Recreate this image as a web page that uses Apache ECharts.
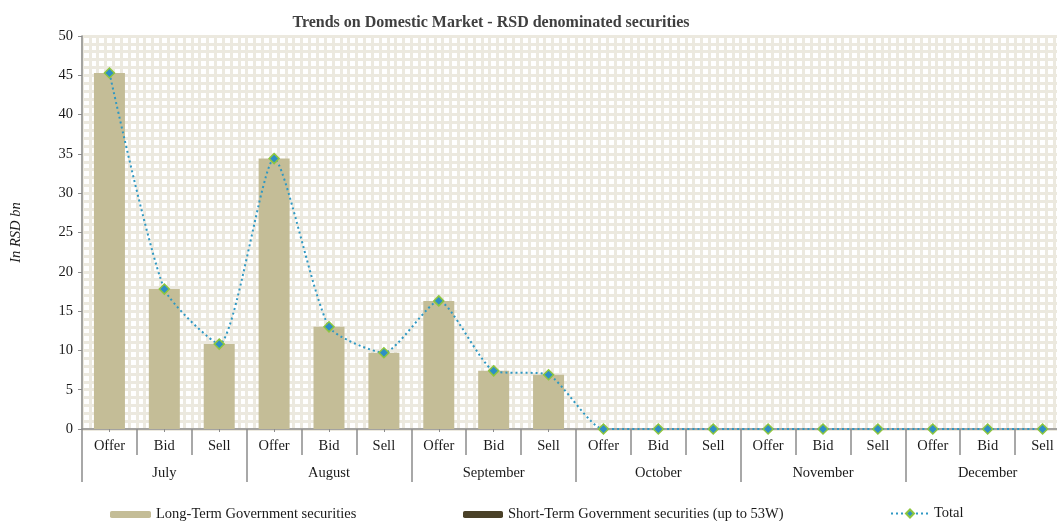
<!DOCTYPE html>
<html>
<head>
<meta charset="utf-8">
<title>Trends on Domestic Market - RSD denominated securities</title>
<script src="https://cdn.jsdelivr.net/npm/echarts@6/dist/echarts.min.js"></script>
<style>
    html, body { margin: 0; padding: 0; background: #fff; }
    #chart { width: 1057px; height: 521px; }
</style>
</head>
<body>
<div id="chart"></div>
<script>
    // categories
    var months = ['July', 'August', 'September', 'October', 'November', 'December'];
    var kinds = ['Offer', 'Bid', 'Sell'];
    // values, in RSD bn
    var longTerm = [45.3, 17.8, 10.8, 34.4, 13.0, 9.7, 16.3, 7.4, 6.9, 0, 0, 0, 0, 0, 0, 0, 0, 0];
    var shortTerm = [0, 0, 0, 0, 0, 0, 0, 0, 0, 0, 0, 0, 0, 0, 0, 0, 0, 0];
    var total = [45.3, 17.8, 10.8, 34.4, 13.0, 9.7, 16.3, 7.4, 6.9, 0, 0, 0, 0, 0, 0, 0, 0, 0];
    var yTicks = [0, 5, 10, 15, 20, 25, 30, 35, 40, 45, 50];

    var categories = [];
    months.forEach(function () {
        kinds.forEach(function (k) { categories.push(k); });
    });

    var font = 'Liberation Serif';
    var gridColor = '#ece9df';
    var axisColor = '#8c8c8c';

    var chart = echarts.init(document.getElementById('chart'));
    var option = {
        animation: false,
        backgroundColor: '#fff',
        textStyle: { fontFamily: font },
        title: {
            text: 'Trends on Domestic Market - RSD denominated securities',
            left: 486, top: 10, textAlign: 'center',
            textStyle: { fontFamily: font, fontSize: 16, fontWeight: 'bold', color: '#404040' }
        },
        // one legend per item, placed like the original
        legend: [
            {
                data: ['Long-Term Government securities'], left: 110, top: 507, padding: 0,
                itemWidth: 41, itemHeight: 7,
                textStyle: { fontFamily: font, fontSize: 14.5, color: '#1a1a1a' }
            },
            {
                data: ['Short-Term Government securities (up to 53W)'], left: 463, top: 507, padding: 0,
                itemWidth: 40, itemHeight: 7,
                textStyle: { fontFamily: font, fontSize: 14.5, color: '#1a1a1a' }
            },
            {
                data: ['Total'], left: 890, top: 506, padding: 0,
                itemWidth: 38, itemHeight: 10,
                textStyle: { fontFamily: font, fontSize: 14.5, color: '#1a1a1a' }
            }
        ],
        // the original plot runs past the right edge of the picture
        grid: { left: 82, width: 988, top: 36, height: 393, containLabel: false, outerBoundsMode: 'none' },
        xAxis: [
            {   // Offer / Bid / Sell labels, small centre ticks
                type: 'category', data: categories, position: 'bottom',
                axisLine: { lineStyle: { color: axisColor, width: 1.5 } },
                axisTick: { show: true, alignWithLabel: true, length: 3, lineStyle: { color: axisColor } },
                axisLabel: { margin: 10, fontFamily: font, fontSize: 14.5, color: '#1a1a1a', interval: 0 },
                splitLine: { show: false }
            },
            {   // separators between categories
                type: 'category', data: categories, position: 'bottom',
                axisLine: { show: false },
                axisTick: { show: true, interval: 0, length: 26, lineStyle: { color: axisColor, width: 1.5 } },
                axisLabel: { show: false }
            },
            {   // month labels and separators
                type: 'category', data: months, position: 'bottom',
                axisLine: { show: false },
                axisTick: { show: true, interval: 0, length: 53, lineStyle: { color: axisColor, width: 1.5 } },
                axisLabel: { margin: 37, fontFamily: font, fontSize: 14.5, color: '#1a1a1a', interval: 0 }
            },
            {   // hidden axis that only draws the vertical pattern lines
                type: 'value', min: 0, max: 126, interval: 1, position: 'top',
                axisLine: { show: false }, axisTick: { show: false }, axisLabel: { show: false },
                splitLine: { show: true, lineStyle: { color: gridColor, width: 3 } }
            }
        ],
        yAxis: {
            type: 'value', min: yTicks[0], max: yTicks[yTicks.length - 1], interval: 5,
            name: 'In RSD bn', nameLocation: 'middle', nameGap: 58, nameRotate: 90,
            nameTextStyle: { fontFamily: font, fontSize: 14.5, fontStyle: 'italic', color: '#1a1a1a' },
            axisLine: { show: true, lineStyle: { color: axisColor, width: 1.5 } },
            axisTick: { show: true, length: 4, lineStyle: { color: axisColor } },
            axisLabel: { margin: 9, fontFamily: font, fontSize: 14.5, color: '#1a1a1a' },
            splitLine: { show: true, lineStyle: { color: gridColor, width: 3 } },
            minorTick: { show: false, splitNumber: 5 },
            minorSplitLine: { show: true, lineStyle: { color: gridColor, width: 3 } }
        },
        series: [
            {
                name: 'Long-Term Government securities', type: 'bar', stack: 'gov',
                data: longTerm, barWidth: 31,
                itemStyle: { color: '#c4bd97' }, z: 3
            },
            {
                name: 'Short-Term Government securities (up to 53W)', type: 'bar', stack: 'gov',
                data: shortTerm, barWidth: 31,
                itemStyle: { color: '#4a4128' }, z: 3
            },
            {
                name: 'Total', type: 'line', data: total, smooth: 0.2,
                symbol: 'diamond', symbolSize: 10, showAllSymbol: true,
                lineStyle: { color: '#2f98c3', width: 2, type: [2, 3] },
                itemStyle: { color: '#2d8fc6', borderColor: '#8dc63f', borderWidth: 1.5 },
                z: 5
            }
        ]
    };
    chart.setOption(option);
</script>
</body>
</html>
